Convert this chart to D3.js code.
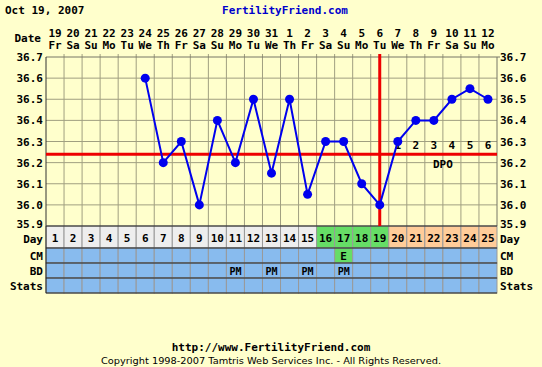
<!DOCTYPE html>
<html>
<head>
<meta charset="utf-8">
<script src="https://cdn.jsdelivr.net/npm/d3@7"></script>
<style>
  body { margin: 0; background: #ffffcc; }
  svg text { font-family: "DejaVu Sans Mono", monospace; font-weight: bold; font-size: 11px; fill: #000; }
</style>
</head>
<body>
<div id="chart"></div>
<script>
// chart data
const cycleDays = d3.range(1, 26);
const dates = ["19","20","21","22","23","24","25","26","27","28","29","30","31","1","2","3","4","5","6","7","8","9","10","11","12"];
const weekdays = ["Fr","Sa","Su","Mo","Tu","We","Th","Fr","Sa","Su","Mo","Tu","We","Th","Fr","Sa","Su","Mo","Tu","We","Th","Fr","Sa","Su","Mo"];
const temps = [null,null,null,null,null,36.6,36.2,36.3,36.0,36.4,36.2,36.5,36.15,36.5,36.05,36.3,36.3,36.1,36.0,36.3,36.4,36.4,36.5,36.55,36.5];
const tempTicks = [35.9,36.0,36.1,36.2,36.3,36.4,36.5,36.6,36.7];
const coverline = 36.24;
const ovulationDay = 19;
const fertileDays = [16,17,18,19];
const cmEntries = [{day: 17, text: "E"}];
const bdDays = [11,13,15,17];
const dpoLabels = ["1","2","3","4","5","6"];

const width = 542, height = 367;
const svg = d3.select("#chart").append("svg")
    .attr("width", width).attr("height", height);

svg.append("rect").attr("width", width).attr("height", height).attr("fill", "#ffffcc");

// scales
const x = d3.scaleLinear().domain([0.5, 25.5]).range([46, 497]);
const y = d3.scaleLinear().domain([35.9, 36.7]).range([226, 57]);
const colW = x(2) - x(1);

// header text
svg.append("text").attr("x", 5).attr("y", 14).text("Oct 19, 2007");
svg.append("text").attr("x", 285).attr("y", 14).attr("text-anchor", "middle")
    .style("fill", "#0000cc").text("FertilityFriend.com");

svg.append("text").attr("x", 41).attr("y", 42).attr("text-anchor", "end").text("Date");
svg.selectAll(".dt").data(cycleDays).join("text")
    .attr("x", d => x(d)).attr("y", 37).attr("text-anchor", "middle")
    .text((d, i) => dates[i]);
svg.selectAll(".wd").data(cycleDays).join("text")
    .attr("x", d => x(d)).attr("y", 49).attr("text-anchor", "middle")
    .text((d, i) => weekdays[i]);

// grid
const grid = svg.append("g");
grid.selectAll(".vg").data(d3.range(1, 25)).join("line")
    .attr("x1", d => x(d + 0.5)).attr("x2", d => x(d + 0.5))
    .attr("y1", y(36.7) - 3).attr("y2", y(35.9))
    .attr("stroke", "#a09f80").attr("stroke-width", 1);
grid.selectAll(".hg").data(tempTicks.slice(1, -1)).join("line")
    .attr("x1", x(0.5)).attr("x2", x(25.5))
    .attr("y1", d => y(d)).attr("y2", d => y(d))
    .attr("stroke", "#a09f80").attr("stroke-width", 1);
grid.append("line").attr("x1", x(0.5)).attr("x2", x(25.5) + 3)
    .attr("y1", y(36.7)).attr("y2", y(36.7)).attr("stroke", "#777766");
grid.append("line").attr("x1", x(0.5)).attr("x2", x(0.5))
    .attr("y1", y(36.7)).attr("y2", y(35.9)).attr("stroke", "#333");
grid.append("line").attr("x1", x(25.5)).attr("x2", x(25.5))
    .attr("y1", y(36.7)).attr("y2", y(35.9)).attr("stroke", "#777766");

// temp labels both sides
svg.selectAll(".yl").data(tempTicks).join("text")
    .attr("x", 43).attr("y", d => y(d) + (d === 35.9 ? 2 : 4)).attr("text-anchor", "end")
    .text(d => d.toFixed(1));
svg.selectAll(".yr").data(tempTicks).join("text")
    .attr("x", 500).attr("y", d => y(d) + (d === 35.9 ? 2 : 4))
    .text(d => d.toFixed(1));

// bottom rows
const rowTop = y(35.9);
const rows = [
  {name: "Day", top: rowTop, h: 22},
  {name: "CM", top: rowTop + 22, h: 15},
  {name: "BD", top: rowTop + 37, h: 15},
  {name: "Stats", top: rowTop + 52, h: 15}
];

function dayFill(d) {
  if (fertileDays.includes(d)) return "#66dd66";
  if (d > ovulationDay) return "#ffcc99";
  return "#eeeeee";
}

rows.forEach(r => {
  svg.selectAll(".cell-" + r.name).data(cycleDays).join("rect")
    .attr("x", d => x(d - 0.5)).attr("y", r.top)
    .attr("width", colW).attr("height", r.h)
    .attr("fill", d => {
      if (r.name === "Day") return dayFill(d);
      if (r.name === "CM" && cmEntries.some(c => c.day === d)) return "#66dd66";
      return "#88bbee";
    })
    .attr("stroke", "#999999").attr("stroke-width", 1);
  const ty = r.name === "Day" ? r.top + 17 : r.top + r.h / 2 + 4;
  svg.append("text").attr("x", 43).attr("y", ty)
    .attr("text-anchor", "end").text(r.name);
  svg.append("text").attr("x", 500).attr("y", ty).text(r.name);
});
// row separators
svg.selectAll(".rs").data(rows).join("line")
  .attr("x1", x(0.5)).attr("x2", x(25.5))
  .attr("y1", d => d.top).attr("y2", d => d.top)
  .attr("stroke", "#222").attr("stroke-width", 1.2);
svg.append("line").attr("x1", x(0.5)).attr("x2", x(25.5))
  .attr("y1", rowTop + 67).attr("y2", rowTop + 67).attr("stroke", "#222").attr("stroke-width", 1.2);
svg.append("line").attr("x1", x(0.5)).attr("x2", x(0.5))
  .attr("y1", rowTop).attr("y2", rowTop + 67).attr("stroke", "#222");

svg.selectAll(".dn").data(cycleDays).join("text")
  .attr("x", d => x(d)).attr("y", rowTop + 16).attr("text-anchor", "middle")
  .text(d => d);
svg.selectAll(".cm").data(cmEntries).join("text")
  .attr("x", d => x(d.day)).attr("y", rows[1].top + 12).attr("text-anchor", "middle")
  .text(d => d.text);
svg.selectAll(".bd").data(bdDays).join("text")
  .attr("x", d => x(d)).attr("y", rows[2].top + 12).attr("text-anchor", "middle")
  .style("font-size", "10px").text("PM");

// coverline and ovulation line
svg.append("line").attr("x1", x(0.5)).attr("x2", x(25.5))
  .attr("y1", y(coverline)).attr("y2", y(coverline))
  .attr("stroke", "#ee0000").attr("stroke-width", 3);
svg.append("line").attr("x1", x(ovulationDay)).attr("x2", x(ovulationDay))
  .attr("y1", y(36.7) - 3).attr("y2", y(35.9))
  .attr("stroke", "#ee0000").attr("stroke-width", 3);

// DPO labels
svg.selectAll(".dpo").data(dpoLabels).join("text")
  .attr("x", (d, i) => x(ovulationDay + 1 + i)).attr("y", y(coverline) - 5)
  .attr("text-anchor", "middle").text(d => d);
svg.append("text").attr("x", x(22.5)).attr("y", y(coverline) + 14)
  .attr("text-anchor", "middle").text("DPO");

// temperature line
const pts = cycleDays.map((d, i) => ({day: d, t: temps[i]})).filter(p => p.t !== null);
svg.append("path").datum(pts)
  .attr("d", d3.line().x(p => x(p.day)).y(p => y(p.t)))
  .attr("fill", "none").attr("stroke", "#0000ee").attr("stroke-width", 2);
svg.selectAll(".pt").data(pts).join("circle")
  .attr("cx", p => x(p.day)).attr("cy", p => y(p.t)).attr("r", 4.5)
  .attr("fill", "#0000ee");

// footer
svg.append("text").attr("x", 271).attr("y", 351).attr("text-anchor", "middle")
  .text("http://www.FertilityFriend.com");
svg.append("text").attr("x", 271).attr("y", 364).attr("text-anchor", "middle")
  .style("font-family", "DejaVu Sans, sans-serif").style("font-weight", "normal").style("font-size", "8px")
  .attr("textLength", 340).attr("lengthAdjust", "spacingAndGlyphs")
  .text("Copyright 1998-2007 Tamtris Web Services Inc. - All Rights Reserved.");
</script>
</body>
</html>
